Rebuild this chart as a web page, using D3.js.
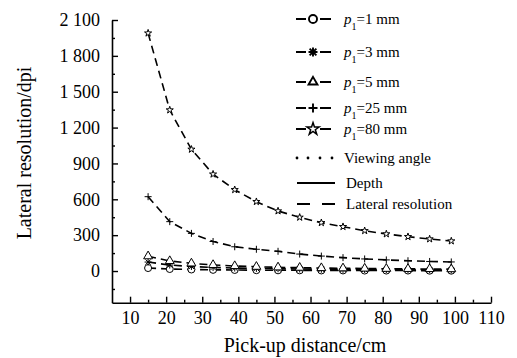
<!DOCTYPE html>
<html>
<head>
<meta charset="utf-8">
<script src="https://cdn.jsdelivr.net/npm/d3@7"></script>
<style>
  body { margin: 0; background: #fff; }
  svg { display: block; font-family: "Liberation Serif", "Times New Roman", serif; }
</style>
</head>
<body>
<svg id="chart" width="517" height="358"></svg>
<script>
// pick-up distance (cm)
const distances = [15, 21, 27, 33, 39, 45, 51, 57, 63, 69, 75, 81, 87, 93, 99];

// lateral resolution (dpi) for each pitch p1
const latP1 = [25, 17, 13, 10, 9, 7, 6, 6, 5, 5, 4, 4, 4, 3, 3];
const latP3 = [75, 50, 38, 30, 25, 22, 19, 17, 15, 14, 13, 12, 11, 10, 9];
const latP5 = [124, 84, 64, 51, 42, 36, 31, 28, 25, 23, 21, 19, 18, 17, 16];
const latP25 = [622, 413, 315, 247, 203, 182, 165, 142, 125, 112, 101, 93, 86, 80, 76];
const latP80 = [1990, 1347, 1018, 810, 680, 580, 502, 449, 404, 371, 337, 310, 287, 268, 251];

const xTicks = [10, 20, 30, 40, 50, 60, 70, 80, 90, 100, 110];
const xMinorTicks = [15, 25, 35, 45, 55, 65, 75, 85, 95, 105];
const yTicks = [0, 300, 600, 900, 1200, 1500, 1800, 2100];
const yMinorTicks = [-150, 150, 450, 750, 1050, 1350, 1650, 1950];

const seriesNames = ['1', '3', '5', '25', '80'];
const seriesValues = [latP1, latP3, latP5, latP25, latP80];
const seriesMarkers = ['circle', 'asterisk', 'triangle', 'plus', 'star'];

const svg = d3.select('#chart');

const x = d3.scaleLinear().domain([5, 110]).range([112, 491]);
const y = d3.scaleLinear().domain([-265, 2100]).range([302.7, 20]);

const fmt = (d) => d3.format(',')(d).replace(',', ' ');

// axes
svg.append('g')
  .attr('transform', `translate(0,${y(-265)})`)
  .call(d3.axisBottom(x).tickValues(xTicks).tickSizeInner(-6).tickSizeOuter(0).tickPadding(8.5))
  .call((g) => {
    g.select('.domain').attr('stroke-width', 1.6);
    g.selectAll('.tick line').attr('stroke-width', 1.4);
    g.selectAll('text').attr('font-size', 18).attr('font-family', 'Liberation Serif').attr('fill', '#000');
  });
svg.append('g')
  .attr('transform', `translate(0,${y(-265)})`)
  .call(d3.axisBottom(x).tickValues(xMinorTicks).tickSizeInner(-3).tickSizeOuter(0).tickFormat(''))
  .call((g) => {
    g.select('.domain').remove();
    g.selectAll('.tick line').attr('stroke-width', 1.4);
  });

svg.append('g')
  .attr('transform', `translate(${x(5)},0)`)
  .call(d3.axisLeft(y).tickValues(yTicks).tickSizeInner(-6).tickSizeOuter(0).tickPadding(12).tickFormat(fmt))
  .call((g) => {
    g.select('.domain').attr('stroke-width', 1.6);
    g.selectAll('.tick line').attr('stroke-width', 1.4);
    g.selectAll('text').attr('font-size', 18).attr('font-family', 'Liberation Serif').attr('fill', '#000');
  });
svg.append('g')
  .attr('transform', `translate(${x(5)},0)`)
  .call(d3.axisLeft(y).tickValues(yMinorTicks).tickSizeInner(-3).tickSizeOuter(0).tickFormat(''))
  .call((g) => {
    g.select('.domain').remove();
    g.selectAll('.tick line').attr('stroke-width', 1.4);
  });

// axis titles
svg.append('text')
  .attr('x', 305).attr('y', 352)
  .attr('text-anchor', 'middle')
  .attr('font-size', 20)
  .text('Pick-up distance/cm');

svg.append('text')
  .attr('transform', 'translate(31,153) rotate(-90)')
  .attr('text-anchor', 'middle')
  .attr('font-size', 20)
  .text('Lateral resolution/dpi');

// marker shapes
const markerPath = (type, s) => {
  if (type === 'circle') return d3.symbol(d3.symbolCircle, s * s * 0.8)();
  if (type === 'triangle') return d3.symbol(d3.symbolTriangle, s * s * 0.7)();
  if (type === 'star') return d3.symbol(d3.symbolStar, s * s * 0.32)();
  if (type === 'plus') {
    const h = s / 2;
    return `M${-h},0H${h}M0,${-h}V${h}`;
  }
  // asterisk
  const h = s / 2;
  const d = h * 0.75;
  return `M${-h},0H${h}M0,${-h}V${h}M${-d},${-d}L${d},${d}M${-d},${d}L${d},${-d}`;
};

const line = d3.line().x((d) => x(d[0])).y((d) => y(d[1]));

const plot = svg.append('g');

seriesValues.forEach((vals, i) => {
  const pts = distances.map((d, j) => [d, vals[j]]);
  plot.append('path')
    .datum(pts)
    .attr('d', line)
    .attr('fill', 'none')
    .attr('stroke', '#000')
    .attr('stroke-width', 1.6)
    .attr('stroke-dasharray', '8,5');

  plot.append('g')
    .selectAll('path')
    .data(pts)
    .enter()
    .append('path')
    .attr('transform', (p) => `translate(${x(p[0])},${y(p[1])})`)
    .attr('d', markerPath(seriesMarkers[i], 7))
    .attr('fill', seriesMarkers[i] === 'plus' || seriesMarkers[i] === 'asterisk' ? 'none' : '#fff')
    .attr('stroke', '#000')
    .attr('stroke-width', 1);
});

// legend
const legend = svg.append('g');
const rowY = [19, 52, 82, 108, 129, 158, 183, 204];
const legendSizes = [8, 9, 7, 9, 12];

seriesNames.forEach((name, i) => {
  const ly = rowY[i];
  const row = legend.append('g');
  row.append('path')
    .attr('d', `M296,${ly}H306M320,${ly}H331`)
    .attr('stroke', '#000')
    .attr('stroke-width', 2.2);
  row.append('path')
    .attr('transform', `translate(313,${ly})`)
    .attr('d', markerPath(seriesMarkers[i], legendSizes[i]))
    .attr('fill', seriesMarkers[i] === 'plus' || seriesMarkers[i] === 'asterisk' ? 'none' : '#fff')
    .attr('stroke', '#000')
    .attr('stroke-width', seriesMarkers[i] === 'star' ? 1.5 : 1.9);
  const t = row.append('text')
    .attr('x', 344).attr('y', ly + 5)
    .attr('font-size', 15);
  t.append('tspan').attr('font-style', 'italic').text('p');
  t.append('tspan').attr('font-size', 10).attr('dy', 6).text('1');
  t.append('tspan').attr('dy', -6).text(`=${name} mm`);
});

// line style keys
legend.append('g')
  .selectAll('circle')
  .data([297, 308, 320, 332])
  .enter()
  .append('circle')
  .attr('cx', (d) => d).attr('cy', rowY[5]).attr('r', 1.4)
  .attr('fill', '#000');
legend.append('path')
  .attr('d', `M297,${rowY[6]}H335`)
  .attr('stroke', '#000').attr('stroke-width', 2.2);
legend.append('path')
  .attr('d', `M297,${rowY[7]}H310M322,${rowY[7]}H335`)
  .attr('stroke', '#000').attr('stroke-width', 2.2);

const styleNames = ['Viewing angle', 'Depth', 'Lateral resolution'];
legend.append('g')
  .selectAll('text')
  .data(styleNames)
  .enter()
  .append('text')
  .attr('x', (d, i) => (i === 0 ? 344 : 346))
  .attr('y', (d, i) => rowY[5 + i] + 5)
  .attr('font-size', 15)
  .text((d) => d);
</script>
</body>
</html>
